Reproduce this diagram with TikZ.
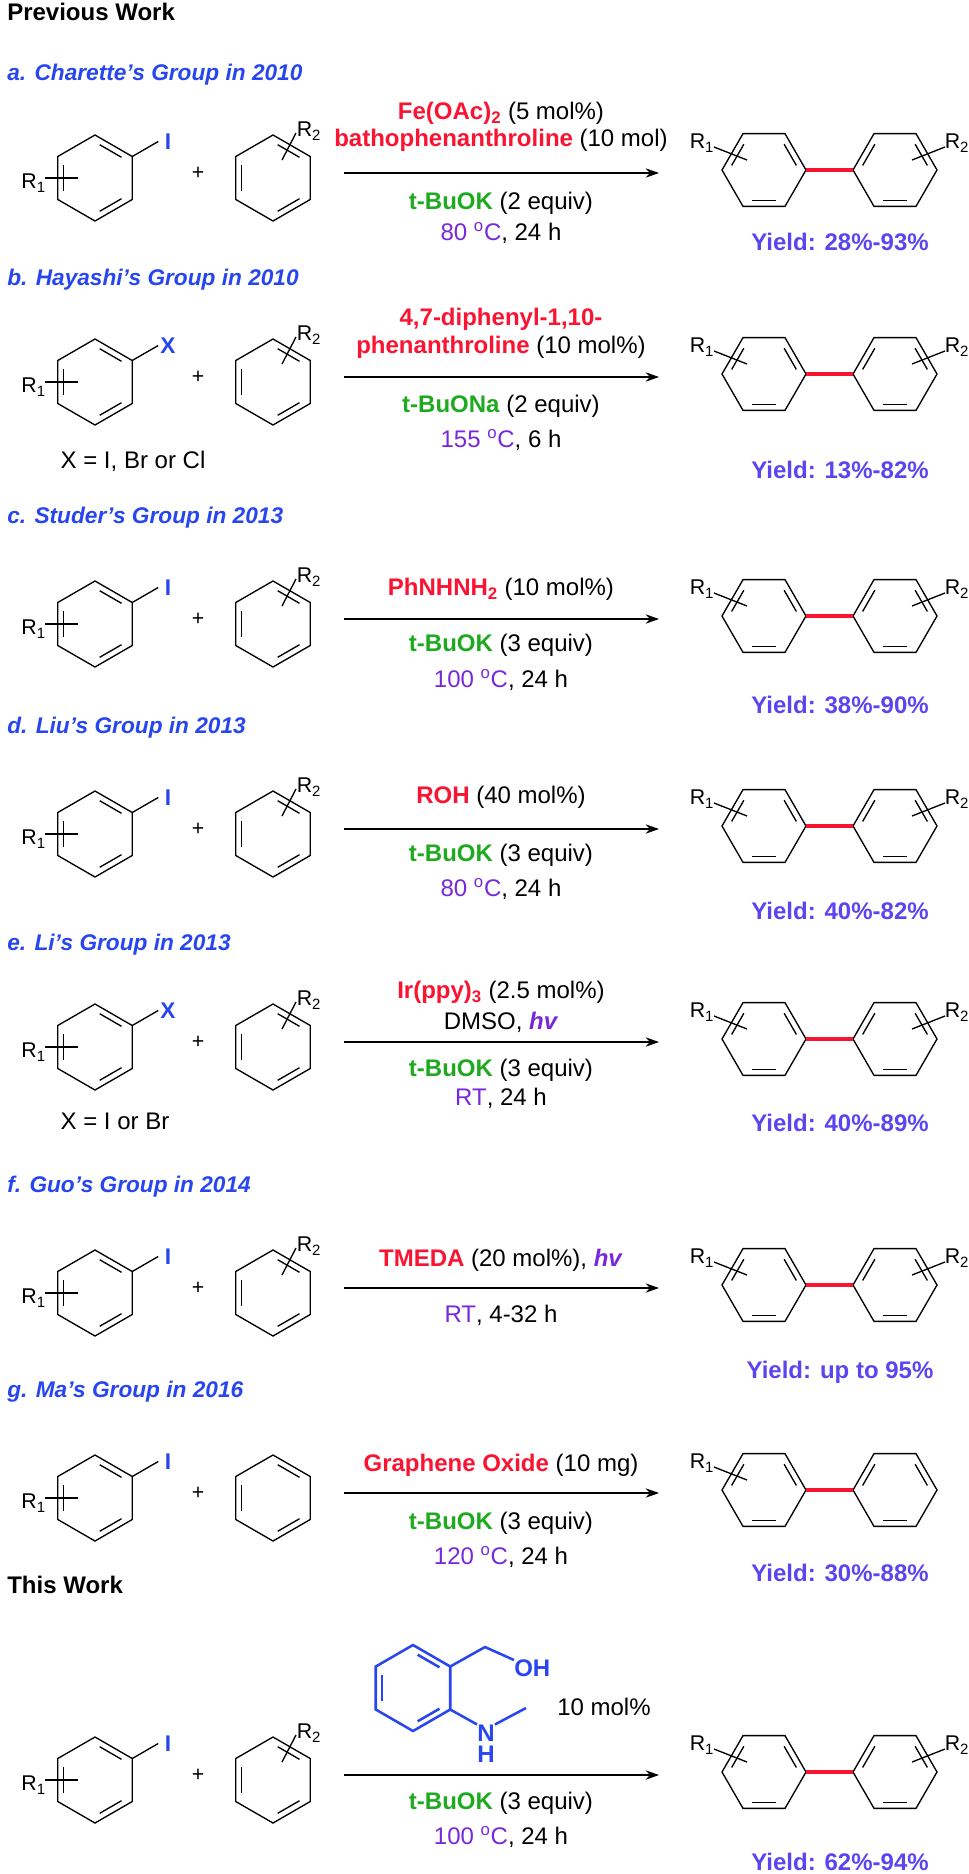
\documentclass[tikz,border=0pt]{standalone}
\usepackage{fontspec}
\setmainfont{Liberation Sans}
\usetikzlibrary{calc,arrows.meta}
\definecolor{titleblue}{RGB}{40,70,240}
\definecolor{redc}{RGB}{250,20,50}
\definecolor{greenc}{RGB}{30,170,30}
\definecolor{purp}{RGB}{120,40,220}
\definecolor{yieldc}{RGB}{90,70,240}
\newcommand\cred[1]{\textcolor{redc}{\textbf{#1}}}
\newcommand\cgrn[1]{\textcolor{greenc}{\textbf{#1}}}
\newcommand\cpur[1]{\textcolor{purp}{#1}}
\newcommand\hnu{\textcolor{purp}{\textbf{\textit{hv}}}}
\newcommand\degc{\textsuperscript{o}C}
\newcommand\dbl[4]{\draw[#1] ($(#2:#4)!.15!(#3:#4)$) -- ($(#2:#4)!.85!(#3:#4)$);}
\newcommand\hexP[1][bond]{%
  \draw[#1] (-90:43)--(-30:43)--(30:43)--(90:43)--(150:43)--(210:43)--cycle;
  \dbl{#1}{-90}{-30}{36}\dbl{#1}{30}{90}{36}\dbl{#1}{150}{210}{36}}
\newcommand\hexF{%
  \draw[bond] (0:42)--(60:42)--(120:42)--(180:42)--(240:42)--(300:42)--cycle;
  \dbl{bond}{180}{240}{35}\dbl{bond}{300}{0}{35}\dbl{bond}{60}{120}{35}}
% #1 arrow y, #2 label, #3 R2 flag, #4 id
\newcommand\reactrow[4]{%
  \begin{scope}[shift={(95,#1+5)}]
    \hexP
    \draw[bond] (-30:43) -- ++(-30:30);
    \node[xlab] (x#4) at (73,-36) {#2};
    \draw[bond] (-50,0) -- (-17,0);
    \node[rlab,anchor=east] (r1#4) at (-49,5) {R\textsubscript{1}};
  \end{scope}
  \node[rlab] (p#4) at (198,#1) {+};
  \begin{scope}[shift={(273,#1+5)}]
    \hexP
    \ifnum#3=1
      \draw[bond] (9,-18) -- (23,-45);
      \node[rlab] (r2#4) at (36,-47) {R\textsubscript{2}};
    \fi
  \end{scope}
  \coordinate (s#4) at (344,#1);
  \coordinate (e#4) at (659,#1);
  \draw[rxn] (s#4) -- (e#4);}
% #1 arrow y, #2 R2 flag, #3 id
\newcommand\prodrow[3]{%
  \begin{scope}[shift={(764,#1-3)}]
    \hexF
    \draw[bond] (-50,-23) -- (-17,-10);
    \node[rlab] (q1#3) at (-62,-27) {R\textsubscript{1}};
    \coordinate (b1#3) at (0:42);
  \end{scope}
  \begin{scope}[shift={(895,#1-3)}]
    \hexF
    \coordinate (b2#3) at (180:42);
    \ifnum#2=1
      \draw[bond] (17,-10) -- (50,-23);
      \node[rlab] (q2#3) at (62,-27) {R\textsubscript{2}};
    \fi
  \end{scope}
  \draw[redbond] (b1#3) -- (b2#3);}
\tikzset{
 bond/.style={line width=1pt, black},
 cbond/.style={line width=1.9pt, titleblue},
 redbond/.style={line width=3pt, redc},
 rxn/.style={line width=1.1pt,-{Stealth[length=10pt,width=7pt]}},
 reag/.style={font=\fontsize{18}{20}\selectfont, inner sep=0},
 ttl/.style={font=\fontsize{17}{20}\selectfont\bfseries\itshape, text=titleblue, anchor=west, inner sep=0},
 hdr/.style={font=\fontsize{18}{20}\selectfont\bfseries, anchor=west, inner sep=0},
 yld/.style={font=\fontsize{18}{20}\selectfont\bfseries, text=yieldc, inner sep=0},
 rlab/.style={font=\fontsize{16}{18}\selectfont, inner sep=0},
 xlab/.style={font=\fontsize{17}{20}\selectfont\bfseries, text=titleblue, inner sep=0},
 clab/.style={font=\fontsize{18}{20}\selectfont\bfseries, text=titleblue, inner sep=0},
}
\begin{document}
\begin{tikzpicture}[x=0.75pt,y=-0.75pt]
\useasboundingbox (0,0) rectangle (969,1874);
\fill[white] (0,0) rectangle (969,1874);
\node[hdr] (prev) at (7,12) {Previous Work};
% a
\node[ttl] (ta) at (7,75) {a. Charette's Group in 2010};
\reactrow{173}{I}{1}{a}
\node[reag] (a1) at (501,113) {\cred{Fe(OAc)\textsubscript{2}} (5 mol\%)};
\node[reag] (a2) at (501,140) {\cred{bathophenanthroline} (10 mol)};
\node[reag] (a3) at (501,203) {\cgrn{t-BuOK} (2 equiv)};
\node[reag] (a4) at (501,233) {\cpur{80 \degc}, 24 h};
\prodrow{173}{1}{a}
\node[yld] (ya) at (840,242) {Yield: 28\%-93\%};
% b
\node[ttl] (tb) at (7,280) {b. Hayashi's Group in 2010};
\reactrow{377}{X}{1}{b}
\node[reag] (xb) at (133,461) {X = I, Br or Cl};
\node[reag] (b1) at (501,319) {\cred{4,7-diphenyl-1,10-}};
\node[reag] (b2) at (501,347) {\cred{phenanthroline} (10 mol\%)};
\node[reag] (b3) at (501,406) {\cgrn{t-BuONa} (2 equiv)};
\node[reag] (b4) at (501,440) {\cpur{155 \degc}, 6 h};
\prodrow{377}{1}{b}
\node[yld] (yb) at (840,470) {Yield: 13\%-82\%};
% c
\node[ttl] (tc) at (7,518) {c. Studer's Group in 2013};
\reactrow{619}{I}{1}{c}
\node[reag] (c1) at (501,589) {\cred{PhNHNH\textsubscript{2}} (10 mol\%)};
\node[reag] (c3) at (501,645) {\cgrn{t-BuOK} (3 equiv)};
\node[reag] (c4) at (501,680) {\cpur{100 \degc}, 24 h};
\prodrow{619}{1}{c}
\node[yld] (yc) at (840,705) {Yield: 38\%-90\%};
% d
\node[ttl] (td) at (7,728) {d. Liu's Group in 2013};
\reactrow{829}{I}{1}{d}
\node[reag] (d1) at (501,797) {\cred{ROH} (40 mol\%)};
\node[reag] (d3) at (501,855) {\cgrn{t-BuOK} (3 equiv)};
\node[reag] (d4) at (501,889) {\cpur{80 \degc}, 24 h};
\prodrow{829}{1}{d}
\node[yld] (yd) at (840,911) {Yield: 40\%-82\%};
% e
\node[ttl] (te) at (7,945) {e. Li's Group in 2013};
\reactrow{1042}{X}{1}{e}
\node[reag] (xe) at (115,1121) {X = I or Br};
\node[reag] (e1) at (501,992) {\cred{Ir(ppy)\textsubscript{3}} (2.5 mol\%)};
\node[reag] (e2) at (501,1022) {DMSO, \hnu};
\node[reag] (e3) at (501,1070) {\cgrn{t-BuOK} (3 equiv)};
\node[reag] (e4) at (501,1098) {\cpur{RT}, 24 h};
\prodrow{1042}{1}{e}
\node[yld] (ye) at (840,1123) {Yield: 40\%-89\%};
% f
\node[ttl] (tf) at (7,1187) {f. Guo's Group in 2014};
\reactrow{1288}{I}{1}{f}
\node[reag] (f1) at (501,1260) {\cred{TMEDA} (20 mol\%), \hnu};
\node[reag] (f4) at (501,1315) {\cpur{RT}, 4-32 h};
\prodrow{1288}{1}{f}
\node[yld] (yf) at (840,1372) {Yield: up to 95\%};
% g
\node[ttl] (tg) at (7,1392) {g. Ma's Group in 2016};
\reactrow{1493}{I}{0}{g}
\node[reag] (g1) at (501,1465) {\cred{Graphene Oxide} (10 mg)};
\node[reag] (g3) at (501,1523) {\cgrn{t-BuOK} (3 equiv)};
\node[reag] (g4) at (501,1557) {\cpur{120 \degc}, 24 h};
\prodrow{1493}{0}{g}
\node[yld] (yg) at (840,1573) {Yield: 30\%-88\%};
% this work
\node[hdr] (tw) at (7,1585) {This Work};
\reactrow{1775}{I}{1}{h}
\begin{scope}[shift={(413,1688)}]
  \hexP[cbond]
  \coordinate (cur) at (-30:43);
  \coordinate (clr) at (30:43);
\end{scope}
\node[clab,anchor=west] (oh) at (514,1668) {OH};
\node[clab] (nn) at (486,1733) {N};
\node[clab] (hh) at (486,1754) {H};
\coordinate (ch2) at (485,1647);
\coordinate (me) at (526,1708);
\draw[cbond,line join=round] (cur) -- (ch2) -- (oh.west |- 0,1660);
\draw[cbond] (clr) -- (nn.north west);
\draw[cbond] (nn.north east) -- (me);
\node[reag] (h0) at (604,1707) {10 mol\%};
\node[reag] (h3) at (501,1803) {\cgrn{t-BuOK} (3 equiv)};
\node[reag] (h4) at (501,1837) {\cpur{100 \degc}, 24 h};
\prodrow{1775}{1}{h}
\node[yld] (yh) at (840,1862) {Yield: 62\%-94\%};
\end{tikzpicture}
\end{document}
